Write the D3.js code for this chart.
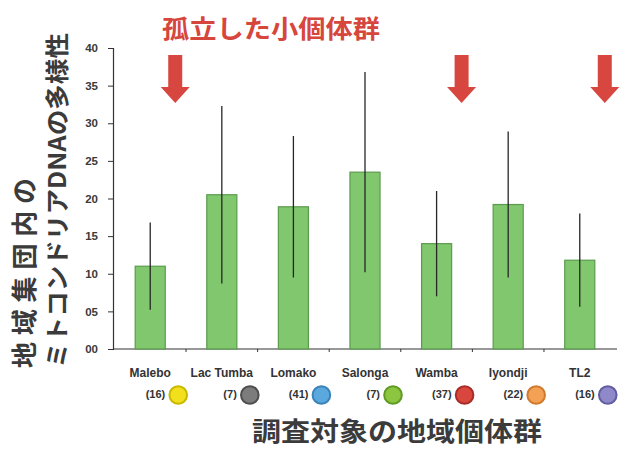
<!DOCTYPE html>
<html>
<head>
<meta charset="utf-8">
<script src="https://cdn.jsdelivr.net/npm/d3@7/dist/d3.min.js"></script>
<style>
  html, body { margin: 0; padding: 0; background: #fff; }
  svg { display: block; }
</style>
</head>
<body>
<svg id="chart" width="625" height="449"></svg>
<script>
// Regional populations and their mitochondrial DNA diversity (mean ± SD)
const populations = ["Malebo", "Lac Tumba", "Lomako", "Salonga", "Wamba", "Iyondji", "TL2"];
const sampleSizes = [16, 7, 41, 7, 37, 22, 16];
const diversity   = [11.0, 20.5, 18.9, 23.5, 14.0, 19.2, 11.8];
const deviation   = [5.8, 11.8, 9.4, 13.3, 7.0, 9.7, 6.2];
const yTicks      = [0, 5, 10, 15, 20, 25, 30, 35, 40];
const isolated    = ["Malebo", "Wamba", "TL2"];
const markerColors = ["#f2e01c", "#7c7c7c", "#5aa8dd", "#8cc540", "#d9463e", "#f2a155", "#8f88c9"];
const markerEdges  = ["#c9b800", "#4e4e4e", "#3a82b8", "#5f9a25", "#a82d27", "#d07a2c", "#625ca0"];

const titleText  = "孤立した小個体群";
const yTitleLine1 = "地域集団内の";
const yTitleLine2 = "ミトコンドリアDNAの多様性";
const xTitleText = "調査対象の地域個体群";

const svg = d3.select("#chart");
const jpFont = "'Noto Sans CJK JP', 'Noto Sans', sans-serif";
const latinFont = "'Liberation Sans', Arial, sans-serif";

const plot = { left: 113, right: 617, top: 48, bottom: 349 };

const x = d3.scaleBand()
  .domain(populations)
  .range([plot.left, plot.right])
  .paddingInner(0.58)
  .paddingOuter(0.31);

const y = d3.scaleLinear()
  .domain([0, 40])
  .range([plot.bottom, plot.top]);

const rows = populations.map((p, i) => ({
  name: p, n: sampleSizes[i], mean: diversity[i], sd: deviation[i],
  fill: markerColors[i], edge: markerEdges[i]
}));

// Y axis
const yAxis = svg.append("g")
  .attr("transform", `translate(${plot.left},0)`)
  .call(d3.axisLeft(y).tickValues(yTicks).tickFormat(d3.format("02d")).tickSizeOuter(0).tickSize(5).tickPadding(10));
yAxis.select(".domain").attr("stroke", "#333").attr("stroke-width", 1.2);
yAxis.selectAll(".tick line").attr("stroke", "#333");
yAxis.selectAll(".tick text")
  .attr("fill", "#3a3a3a")
  .style("font-family", latinFont)
  .style("font-size", "11.5px")
  .style("font-weight", "bold");

// X axis baseline with small ticks between groups
const bandEdges = populations.slice(1).map(p => x(p) - x.step() * x.paddingInner() / 2);
svg.append("line")
  .attr("x1", plot.left).attr("x2", plot.right)
  .attr("y1", y(0)).attr("y2", y(0))
  .attr("stroke", "#333").attr("stroke-width", 1.2);
svg.selectAll(".xtick").data(bandEdges).join("line")
  .attr("class", "xtick")
  .attr("x1", d => d).attr("x2", d => d)
  .attr("y1", y(0)).attr("y2", y(0) + 3)
  .attr("stroke", "#333");

// Bars
svg.selectAll(".bar").data(rows).join("rect")
  .attr("class", "bar")
  .attr("x", d => x(d.name))
  .attr("width", x.bandwidth())
  .attr("y", d => y(d.mean))
  .attr("height", d => y(0) - y(d.mean))
  .attr("fill", "#80c76e")
  .attr("stroke", "#5b9b4d")
  .attr("stroke-width", 1.2);

// Error bars (mean ± SD)
svg.selectAll(".err").data(rows).join("line")
  .attr("class", "err")
  .attr("x1", d => x(d.name) + x.bandwidth() / 2)
  .attr("x2", d => x(d.name) + x.bandwidth() / 2)
  .attr("y1", d => y(d.mean - d.sd))
  .attr("y2", d => y(d.mean + d.sd))
  .attr("stroke", "#262626")
  .attr("stroke-width", 1.3);

// Population names
svg.selectAll(".pname").data(rows).join("text")
  .attr("class", "pname")
  .attr("x", d => x(d.name) + x.bandwidth() / 2)
  .attr("y", 377)
  .attr("text-anchor", "middle")
  .attr("fill", "#333")
  .style("font-family", latinFont)
  .style("font-size", "12px")
  .style("font-weight", "bold")
  .text(d => d.name);

// Sample sizes with colour markers
const legend = svg.selectAll(".marker").data(rows).join("g")
  .attr("class", "marker")
  .attr("transform", d => `translate(${x(d.name) + x.bandwidth() / 2},0)`);
legend.append("text")
  .attr("x", 15)
  .attr("y", 398)
  .attr("text-anchor", "end")
  .attr("fill", "#333")
  .style("font-family", latinFont)
  .style("font-size", "11px")
  .style("font-weight", "bold")
  .text(d => `(${d.n})`);
legend.append("circle")
  .attr("cx", 28)
  .attr("cy", 395)
  .attr("r", 8.8)
  .attr("fill", d => d.fill)
  .attr("stroke", d => d.edge)
  .attr("stroke-width", 2);

// Arrows marking the isolated small populations
const arrowPath = "M-7,0 L7,0 L7,32 L14.5,32 L0,48 L-14.5,32 L-7,32 Z";
svg.selectAll(".arrow").data(rows.filter(d => isolated.includes(d.name))).join("path")
  .attr("class", "arrow")
  .attr("transform", d => `translate(${x(d.name) + x.bandwidth() / 2 + 25},55)`)
  .attr("d", arrowPath)
  .attr("fill", "#d8473f");

// Titles
svg.append("text")
  .attr("x", 271).attr("y", 38)
  .attr("text-anchor", "middle")
  .attr("fill", "#d6463d")
  .attr("textLength", 218).attr("lengthAdjust", "spacingAndGlyphs")
  .style("font-family", jpFont)
  .style("font-size", "25px")
  .style("font-weight", "bold")
  .text(titleText);

svg.append("text")
  .attr("transform", "translate(34,368) rotate(-90)")
  .attr("fill", "#3b3b3b")
  .attr("textLength", 190).attr("lengthAdjust", "spacing")
  .style("font-family", jpFont)
  .style("font-size", "26px")
  .style("font-weight", "bold")
  .text(yTitleLine1);

svg.append("text")
  .attr("transform", "translate(66,368) rotate(-90)")
  .attr("fill", "#3b3b3b")
  .attr("textLength", 335).attr("lengthAdjust", "spacingAndGlyphs")
  .style("font-family", jpFont)
  .style("font-size", "24px")
  .style("font-weight", "bold")
  .text(yTitleLine2);

svg.append("text")
  .attr("x", 397).attr("y", 441)
  .attr("text-anchor", "middle")
  .attr("fill", "#3b3b3b")
  .attr("textLength", 290).attr("lengthAdjust", "spacingAndGlyphs")
  .style("font-family", jpFont)
  .style("font-size", "26px")
  .style("font-weight", "bold")
  .text(xTitleText);
</script>
</body>
</html>
